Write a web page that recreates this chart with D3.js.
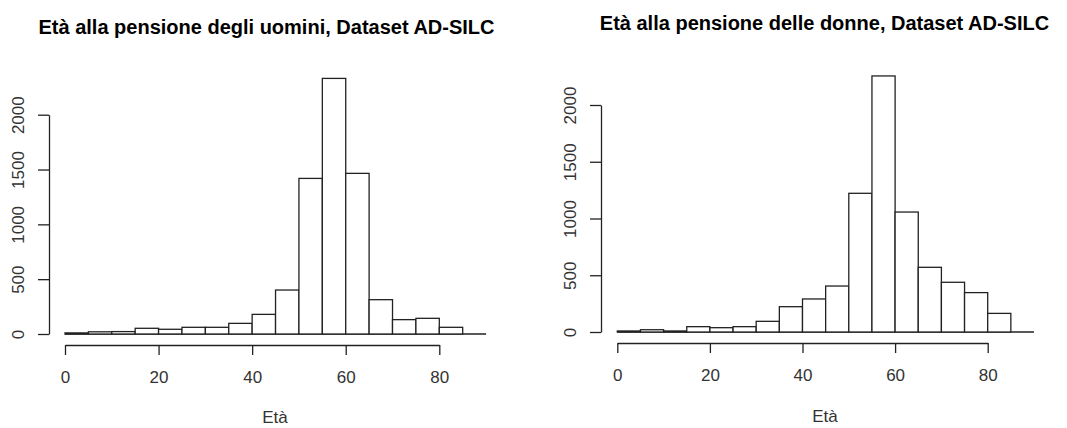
<!DOCTYPE html>
<html>
<head>
<meta charset="utf-8">
<script src="https://cdn.jsdelivr.net/npm/d3@7"></script>
<style>
  html, body { margin: 0; padding: 0; background: #fff; }
  svg { display: block; font-family: "Liberation Sans", Arial, sans-serif; }
</style>
</head>
<body>
<svg id="chart" width="1067" height="428"></svg>
<script>
// Histogram bins: 5-year classes from 0 to 85
const binEdges = [0, 5, 10, 15, 20, 25, 30, 35, 40, 45, 50, 55, 60, 65, 70, 75, 80, 85];

// Counts per bin, men
const menCounts = [10, 20, 22, 52, 43, 61, 61, 97, 179, 401, 1419, 2331, 1465, 313, 131, 143, 61];
// Counts per bin, women
const womenCounts = [9, 20, 9, 47, 38, 47, 94, 223, 291, 405, 1222, 2256, 1057, 570, 438, 347, 164];

const xTicks = [0, 20, 40, 60, 80];
const yTicks = [0, 500, 1000, 1500, 2000];

const titles = [
  "Età alla pensione degli uomini, Dataset AD-SILC",
  "Età alla pensione delle donne, Dataset AD-SILC"
];
const xLabel = "Età";

const svg = d3.select("#chart");
const ink = "#222";

const panels = [
  { counts: menCounts, title: titles[0],
    x0: 65, x80: 439.3, y0: 334, y2000: 114.7, xAxisY: 345, yAxisX: 49,
    titleX: 266.5, titleY: 34, labelX: 275, labelY: 423 },
  { counts: womenCounts, title: titles[1],
    x0: 617.3, x80: 987.7, y0: 332, y2000: 105, xAxisY: 343, yAxisX: 601,
    titleX: 824.5, titleY: 30, labelX: 825, labelY: 422 }
];

panels.forEach(p => {
  const g = svg.append("g");
  const x = d3.scaleLinear().domain([0, 80]).range([p.x0, p.x80]);
  const y = d3.scaleLinear().domain([0, 2000]).range([p.y0, p.y2000]);

  const bins = p.counts.map((c, i) => ({ lo: binEdges[i], hi: binEdges[i + 1], c }));

  // baseline along zero
  g.append("line")
    .attr("x1", x(0)).attr("x2", x(90))
    .attr("y1", y(0)).attr("y2", y(0))
    .attr("stroke", ink).attr("stroke-width", 1.3);

  // bars
  g.selectAll("rect.bar").data(bins).join("rect")
    .attr("class", "bar")
    .attr("x", d => x(d.lo))
    .attr("y", d => y(d.c))
    .attr("width", d => x(d.hi) - x(d.lo))
    .attr("height", d => y(0) - y(d.c))
    .attr("fill", "#fff")
    .attr("stroke", ink)
    .attr("stroke-width", 1.3);

  // y axis
  const yAxis = g.append("g")
    .attr("transform", `translate(${p.yAxisX},0)`)
    .call(d3.axisLeft(y).tickValues(yTicks).tickSize(11).tickSizeOuter(0).tickFormat(d3.format("d")));
  yAxis.select(".domain").attr("stroke", ink).attr("stroke-width", 1.3);
  yAxis.selectAll(".tick line").attr("stroke", ink).attr("stroke-width", 1.3);
  yAxis.selectAll(".tick text")
    .attr("x", null).attr("dy", null)
    .attr("transform", "translate(-25,0) rotate(-90)")
    .attr("text-anchor", "middle")
    .attr("fill", "#333")
    .style("font-size", "17px")
    .style("font-family", "Liberation Sans, Arial, sans-serif");

  // x axis
  const xAxis = g.append("g")
    .attr("transform", `translate(0,${p.xAxisY})`)
    .call(d3.axisBottom(x).tickValues(xTicks).tickSize(10).tickSizeOuter(0));
  xAxis.select(".domain").attr("stroke", ink).attr("stroke-width", 1.3);
  xAxis.selectAll(".tick line").attr("stroke", ink).attr("stroke-width", 1.3);
  xAxis.selectAll(".tick text")
    .attr("y", 38).attr("dy", null)
    .attr("fill", "#333")
    .style("font-size", "17px")
    .style("font-family", "Liberation Sans, Arial, sans-serif");

  // title
  g.append("text")
    .attr("x", p.titleX).attr("y", p.titleY)
    .attr("text-anchor", "middle")
    .attr("font-weight", "bold")
    .attr("font-size", 20)
    .attr("fill", "#000")
    .text(p.title);

  // x label
  g.append("text")
    .attr("x", p.labelX).attr("y", p.labelY)
    .attr("text-anchor", "middle")
    .attr("font-size", 17)
    .attr("fill", "#333")
    .text(xLabel);
});
</script>
</body>
</html>
